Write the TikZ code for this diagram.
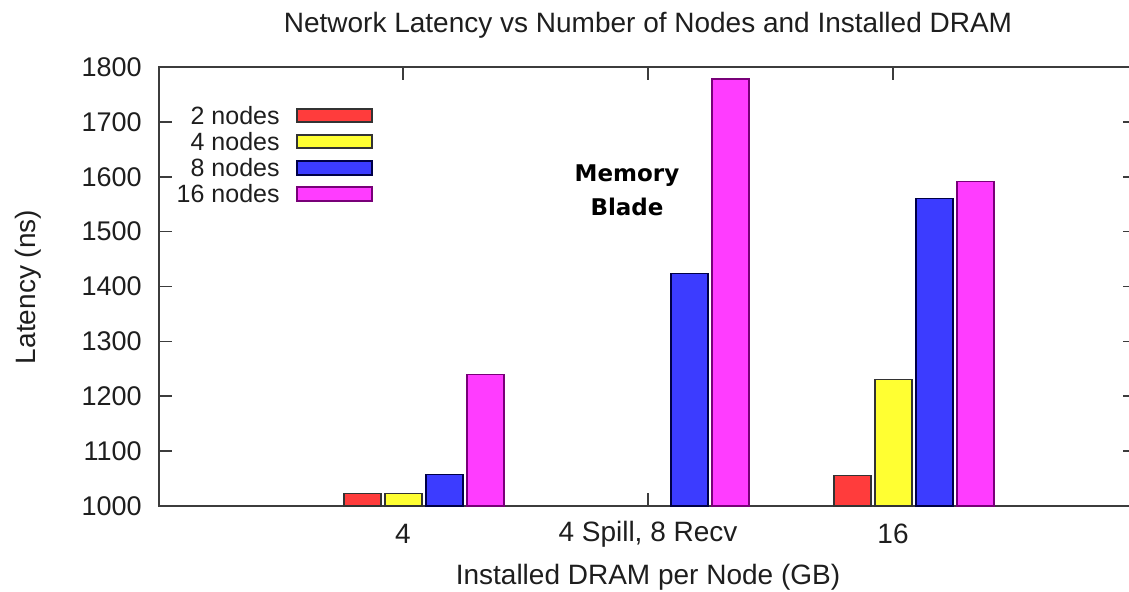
\documentclass[tikz,border=0pt]{standalone}
\usepackage{fontspec}
\setmainfont{Liberation Sans}
\newfontfamily\bladefont{DejaVu Sans}
\definecolor{txt}{RGB}{30,30,30}
\definecolor{cred}{RGB}{255,60,60}
\definecolor{cyel}{RGB}{255,255,50}
\definecolor{cblu}{RGB}{60,60,255}
\definecolor{cmag}{RGB}{255,60,255}
\definecolor{bmag}{RGB}{120,0,120}
\definecolor{bblu}{RGB}{0,0,70}
\definecolor{frame}{RGB}{60,60,60}
\newcommand\mybar[3]{\draw[#1] (#2,506) rectangle ({#2+37},{506-(#3-1000)*0.54875});}
\begin{document}
\begin{tikzpicture}[x=0.5pt,y=-0.5pt,
  lbl/.style={text=txt,font=\fontsize{14}{16}\selectfont,inner sep=0pt},
  ticklbl/.style={text=txt,font=\fontsize{13.5}{16}\selectfont,inner sep=0pt,anchor=east},
  leglbl/.style={text=txt,font=\fontsize{12.5}{15}\selectfont,inner sep=0pt,anchor=east},
  axisline/.style={draw=frame,line width=1pt},
  tickline/.style={draw=frame,line width=0.8pt},
  rbar/.style={fill=cred,draw=black!80,line width=0.6pt},
  ybar/.style={fill=cyel,draw=black!80,line width=0.6pt},
  bbar/.style={fill=cblu,draw=bblu,line width=0.6pt},
  mbar/.style={fill=cmag,draw=bmag,line width=0.6pt}]
\useasboundingbox (0,0) rectangle (1129,592);
% title
\node[lbl] (title) at (648,25) {Network Latency vs Number of Nodes and Installed DRAM};
% y ticks and labels
\foreach \v in {1000,1100,...,1800}{
  \pgfmathsetmacro\yy{506-(\v-1000)*0.54875}
  \node[ticklbl] (yt\v) at (142,\yy) {\v};
  \draw[tickline] (159,\yy) -- (172,\yy);
  \draw[tickline] (1123,\yy) -- (1129,\yy);
}
% x ticks
\foreach \xx in {403,648,893}{
  \draw[tickline] (\xx,67) -- (\xx,80);
  \draw[tickline] (\xx,506) -- (\xx,493);
}
% frame
\draw[axisline] (1129,67) -- (159,67) -- (159,506) -- (1129,506);
% axis labels
\node[lbl,rotate=90] (ylab) at (28,287) {Latency (ns)};
\node[lbl] (xlab) at (648,577) {Installed DRAM per Node (GB)};
\node[lbl] (c1) at (403,534) {4};
\node[lbl] (c2) at (648,534) {4 Spill, 8 Recv};
\node[lbl] (c3) at (893,534) {16};
% bars group 1
\mybar{rbar}{344}{1023}
\mybar{ybar}{385}{1023}
\mybar{bbar}{426}{1058}
\mybar{mbar}{467}{1239}
% group 2
\mybar{bbar}{671}{1424}
\mybar{mbar}{712}{1778}
% group 3
\mybar{rbar}{834}{1056}
\mybar{ybar}{875}{1230}
\mybar{bbar}{916}{1561}
\mybar{mbar}{957}{1592}
% legend
\node[leglbl] (l1) at (280,115.5) {2 nodes};
\node[leglbl] (l2) at (280,141.5) {4 nodes};
\node[leglbl] (l3) at (280,168) {8 nodes};
\node[leglbl] (l4) at (280,194) {16 nodes};
\draw[rbar] (297,109) rectangle (372,122);
\draw[ybar] (297,135) rectangle (372,148);
\draw[bbar] (297,161) rectangle (372,175);
\draw[mbar] (297,187) rectangle (372,201);
% annotation
\node[align=center,inner sep=0pt,font=\bladefont\bfseries\fontsize{11.5}{17}\selectfont] (blade) at (627,190) {Memory\\Blade};
\end{tikzpicture}
\end{document}
